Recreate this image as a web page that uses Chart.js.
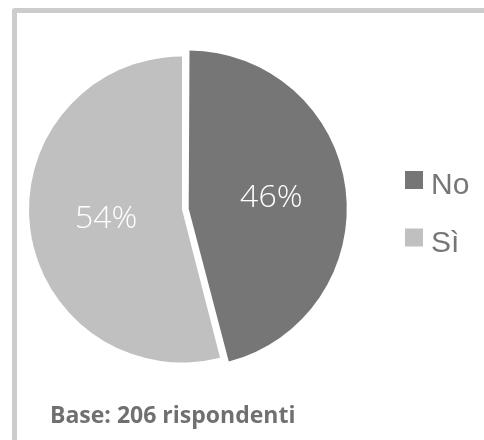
<!DOCTYPE html>
<html>
<head>
<meta charset="utf-8">
<script src="https://cdn.jsdelivr.net/npm/chart.js@4"></script>
<style>
  html, body { margin: 0; padding: 0; width: 484px; height: 440px; overflow: hidden; background: #fff; }
  .frame { position: absolute; left: 12px; top: 8px; width: 520px; height: 500px; border: 5px solid #cccccc; border-radius: 3px; }
  .wrap { position: absolute; left: -14px; top: 0; width: 500px; height: 440px; }
  .base { position: absolute; left: 50px; top: 403px; font-family: "Open Sans", sans-serif; font-weight: 700; font-size: 23px; line-height: 23px; color: #707070; white-space: nowrap; }
</style>
</head>
<body>
<div class="frame"></div>
<div class="wrap"><canvas id="chart" width="500" height="440"></canvas></div>
<div class="base">Base: 206 rispondenti</div>
<script>
// Pie data
const categories = ["No", "Sì"];
const values = [46, 54];
const colors = ["#767676", "#c0c0c0"];
const offsets = [27, 0];

// percent labels drawn at the centre of each slice
const sliceLabels = {
    id: "sliceLabels",
    afterDatasetsDraw(chart) {
        const ctx = chart.ctx;
        const meta = chart.getDatasetMeta(0);
        ctx.save();
        ctx.font = "300 32px 'Open Sans', sans-serif";
        ctx.fillStyle = "#ffffff";
        ctx.textAlign = "center";
        ctx.textBaseline = "middle";
        meta.data.forEach((arc, i) => {
            const p = arc.getCenterPoint();
            ctx.fillText(values[i] + "%", p.x, p.y);
        });
        ctx.restore();
    }
};

// legend on the right, drawn by hand for tighter box/text spacing
const sideLegend = {
    id: "sideLegend",
    afterDraw(chart) {
        const ctx = chart.ctx;
        const x = chart.chartArea.right + 27;
        ctx.save();
        ctx.font = "30px 'Liberation Sans', Arial, sans-serif";
        ctx.textBaseline = "alphabetic";
        ctx.textAlign = "left";
        categories.forEach((name, i) => {
            const base = 194 + i * 57.5;
            ctx.fillStyle = colors[i];
            ctx.fillRect(x, base - 23, 18, 18);
            ctx.fillStyle = "#767676";
            ctx.fillText(name, x + 26, base);
        });
        ctx.restore();
    }
};

const chart = document.querySelector("#chart").getContext("2d");

new Chart(chart, {
    type: "pie",
    data: {
        labels: categories,
        datasets: [
            {
                data: values,
                backgroundColor: colors,
                borderWidth: 0,
                offset: offsets,
            },
        ]
    },
    options: {
        responsive: false,
        animation: false,
        events: [],
        layout: {
            padding: { left: 0, right: 108, top: 43, bottom: 64 }
        },
        plugins: {
            tooltip: { enabled: false },
            legend: { display: false }
        }
    },
    plugins: [sliceLabels, sideLegend]
});
</script>
</body>
</html>
